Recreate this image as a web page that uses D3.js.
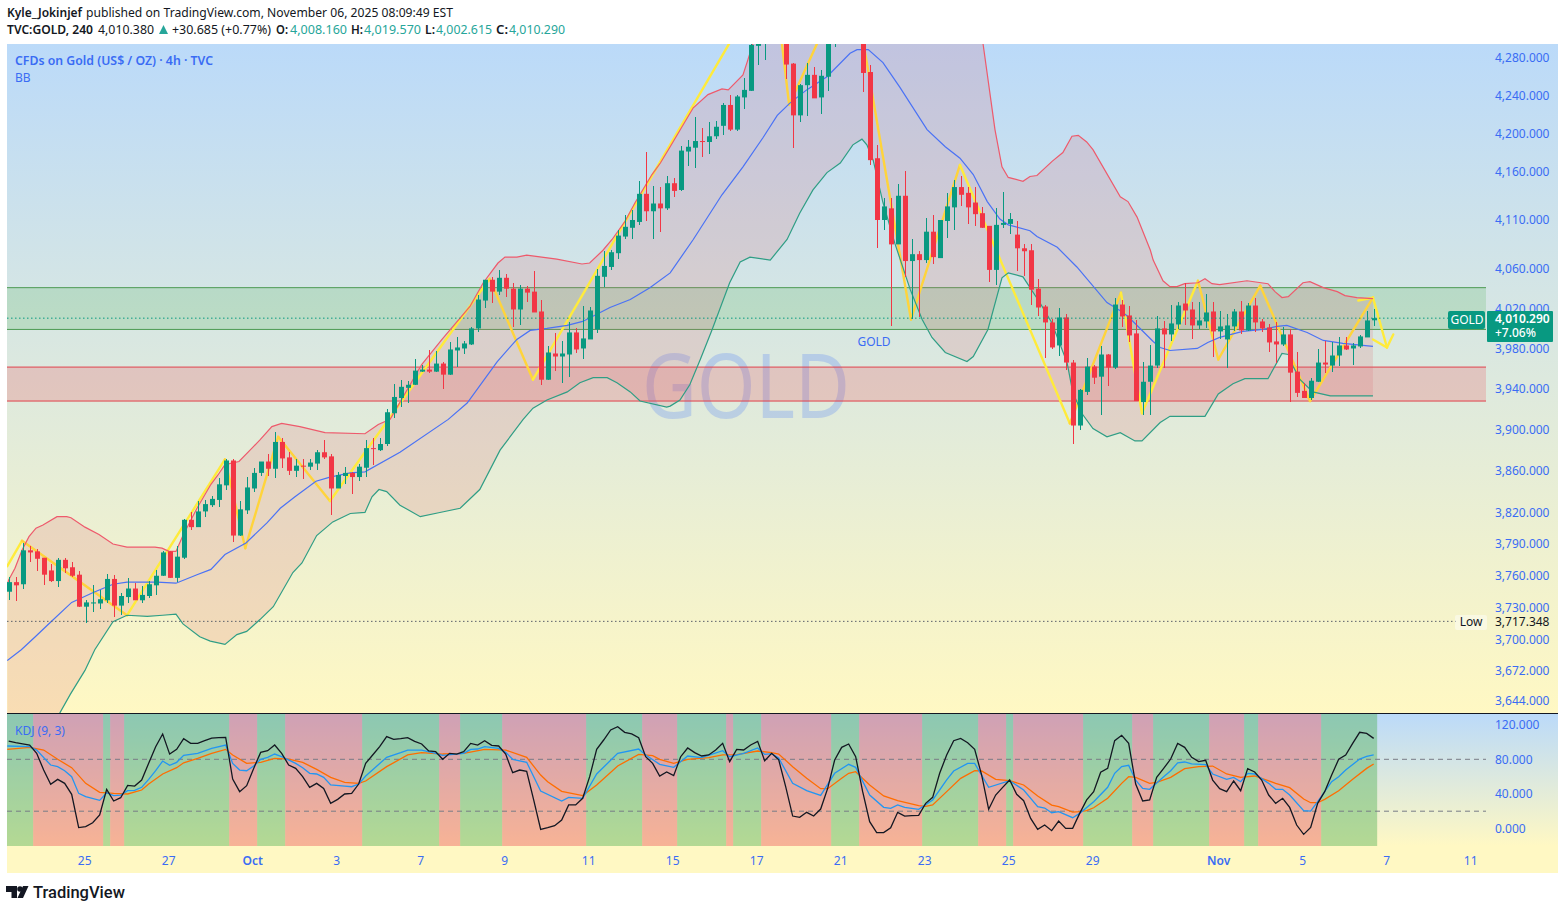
<!doctype html>
<html lang="en">
<head>
<meta charset="UTF-8">
<title>TVC:GOLD, 240</title>
<style>
  html, body { margin: 0; padding: 0; background: #fff; }
  svg { display: block; }
  text { font-family: "Noto Sans", sans-serif; }
  .axis text { fill: #3a6cf4; font-size: 12px; }
  .axis .domain { display: none; }
  .wick { stroke-width: 1px; shape-rendering: crispEdges; }
  .band { fill: none; stroke-width: 1.2px; }
  .kdj { fill: none; stroke-width: 1.3px; }
</style>
</head>
<body>
<svg id="chart" width="1565" height="911"></svg>

<script src="https://d3js.org/d3.v7.min.js"></script>
<script>
  // candles, index = bar number
  const opens = [
    3745,3754,3752,3784,3783,3777,3765,3755,3775,3768,
    3761,3731,3734,3734,3737,3757,3732,3740,3748,3737,
    3741,3751,3760,3783,3758,3777,3813,3806,3821,3827,
    3832,3846,3870,3798,3822,3843,3858,3869,3862,3888,
    3873,3860,3865,3864,3867,3878,3874,3843,3855,3858,
    3854,3863,3882,3880,3886,3916,3931,3941,3944,3957,
    3959,3957,3965,3954,3978,3980,3984,4000,4028,4049,
    4037,4051,4040,4019,4040,4037,4017,3949,3975,3972,
    3974,3996,3980,3989,3999,4052,4062,4076,4093,4102,
    4108,4137,4119,4127,4122,4148,4141,4181,4185,4192,
    4191,4197,4208,4230,4204,4238,4245,4293,4328,4345,
    4360,4320,4274,4219,4251,4262,4238,4260,4305,4330,
    4345,4350,4320,4265,4174,4110,4122,4085,4135,4068,
    4075,4069,4098,4071,4109,4123,4144,4138,4128,4117,
    4104,4059,4105,4106,4095,4081,4079,4040,4022,4006,
    3983,4011,3966,3904,3937,3962,3952,3974,3961,4024,
    4013,3995,3927,3947,3963,4000,3994,4004,4025,4019,
    4003,4007,4017,3997,3989,4002,4017,3998,4023,4007,
    4001,3987,3984,3994,3957,3938,3931,3947,3966,3963,
    3973,3983,3980,3982,3991,4008.16
  ]
  const closes = [
    3754,3751,3784,3782,3776,3761,3755,3775,3767,3760,
    3731,3735,3735,3738,3757,3732,3741,3748,3737,3742,
    3752,3760,3782,3758,3778,3813,3806,3821,3828,3833,
    3847,3870,3798,3823,3844,3858,3869,3862,3888,3872,
    3860,3865,3864,3868,3878,3873,3843,3856,3858,3854,
    3864,3882,3881,3886,3917,3932,3942,3944,3958,3959,
    3957,3965,3954,3979,3981,3985,4000,4029,4049,4037,
    4051,4040,4019,4040,4036,4016,3949,3976,3972,3975,
    3996,3979,3990,4018,4053,4063,4077,4094,4103,4110,
    4137,4119,4127,4122,4148,4140,4182,4186,4192,4191,
    4197,4207,4230,4204,4239,4246,4294,4330,4345,4360,
    4330,4273,4219,4251,4262,4237,4261,4305,4330,4345,
    4350,4330,4264,4172,4110,4124,4085,4135,4068,4075,
    4069,4098,4072,4110,4124,4144,4136,4123,4116,4102,
    4059,4105,4107,4111,4081,4078,4039,4021,4006,3981,
    4011,3966,3904,3939,3962,3951,3974,3961,4024,4012,
    3993,3928,3947,3963,4000,3994,4005,4023,4018,4003,
    4008,4016,3997,4002,4003,4017,3998,4023,4006,4000,
    3986,3984,3994,3956,3936,3931,3948,3966,3964,3973,
    3983,3979,3983,3992,4008,4010.29
  ]
  const highs = [
    3759,3759,3791,3788,3785,3777,3771,3777,3777,3773,
    3764,3737,3751,3747,3762,3761,3744,3758,3753,3750,
    3755,3765,3783,3783,3788,3814,3820,3831,3832,3836,
    3853,3871,3871,3831,3854,3863,3869,3876,3898,3892,
    3878,3871,3871,3871,3880,3890,3876,3859,3864,3859,
    3867,3890,3892,3892,3920,3945,3949,3948,3970,3964,
    3978,3977,3967,3986,3991,3987,4001,4034,4049,4052,
    4059,4055,4046,4044,4043,4058,4029,3982,3995,3987,
    4006,4000,4023,4022,4060,4078,4079,4100,4115,4120,
    4150,4180,4145,4144,4155,4153,4187,4193,4217,4206,
    4212,4213,4232,4241,4241,4259,4300,4345,4360,4378,
    4375,4340,4275,4252,4275,4270,4267,4310,4340,4370,
    4381,4375,4340,4272,4188,4133,4133,4147,4161,4091,
    4078,4112,4115,4110,4138,4151,4155,4144,4144,4123,
    4104,4122,4139,4117,4109,4085,4085,4050,4024,4009,
    4020,4014,3969,3940,3971,3964,3982,3974,4031,4029,
    4023,4008,3967,3983,4012,4007,4024,4027,4046,4027,
    4027,4035,4027,4017,4014,4019,4028,4026,4031,4009,
    4004,4006,4001,3999,3976,3946,3951,3979,3987,3986,
    3991,3991,3985,3993,4017,4019.57
  ]
  const lows = [
    3737,3736,3748,3773,3764,3751,3754,3749,3763,3759,
    3731,3716,3726,3729,3734,3721,3723,3734,3737,3734,
    3739,3742,3760,3758,3754,3776,3803,3806,3816,3825,
    3825,3842,3792,3798,3819,3840,3855,3855,3853,3863,
    3856,3854,3852,3861,3861,3871,3818,3843,3847,3838,
    3850,3854,3866,3879,3884,3911,3922,3926,3944,3957,
    3956,3957,3940,3954,3962,3974,3983,3996,4021,4026,
    4034,4032,4001,4003,4027,4016,3944,3949,3958,3946,
    3952,3975,3970,3989,3995,4042,4059,4070,4091,4091,
    4105,4109,4090,4098,4120,4134,4140,4166,4164,4175,
    4178,4194,4198,4203,4203,4226,4245,4273,4278,4310,
    4320,4258,4185,4212,4218,4237,4220,4245,4292,4310,
    4320,4310,4244,4167,4081,4100,4002,4085,4052,4009,
    4011,4066,4065,4071,4092,4100,4124,4106,4104,4102,
    4047,4044,4102,4096,4058,4053,4024,4012,3971,3979,
    3973,3959,3886,3900,3934,3945,3914,3943,3960,4001,
    3986,3928,3914,3914,3961,3961,3987,3999,4003,3989,
    3999,4000,3972,3989,3961,3997,3994,3997,3996,3996,
    3976,3966,3982,3927,3932,3931,3929,3947,3956,3957,
    3963,3978,3964,3980,3991,4002.6
  ]

  // Bollinger lines as [bar, price]
  const bbUpper = [[-0.2,3751],[0,3756],[0.9,3767],[1.9,3784],[2.9,3797],[3.9,3805],[4.9,3808],[6.9,3816],[8.3,3816],[8.9,3815],[10.9,3806],[12.9,3799],[14.9,3790],[16.9,3787],[20.9,3787],[21.9,3786],[22.9,3783],[23.9,3783],[24.9,3798],[26.9,3824],[28.9,3847],[29.9,3856],[30.9,3866],[32.9,3869],[34.9,3883],[35.9,3890],[37.6,3903],[39,3906],[41.6,3903],[45.2,3897],[50.9,3896],[52.8,3905],[54.5,3910],[59,3964],[61.9,3989],[65.9,4022],[67.8,4046],[69.9,4066],[70.9,4072],[72.6,4072],[74,4074],[78.3,4070],[81.9,4065],[83,4066],[84.9,4079],[86.2,4090],[88,4108],[89.5,4128],[91.9,4157],[93.1,4169],[94.5,4186],[97.8,4227],[99.9,4241],[101.9,4247],[102.8,4246],[104.9,4262],[105.6,4278],[106.3,4295],[108.8,4321],[113,4365],[121.6,4387],[130.2,4409],[135.9,4375],[138.1,4321],[139.2,4295],[140.9,4204],[141.9,4165],[142.8,4154],[144.9,4150],[145.9,4155],[146.9,4156],[149.1,4171],[150.6,4180],[151.9,4197],[152.8,4198],[154,4191],[154.9,4183],[158.8,4134],[159.9,4129],[161.2,4113],[163.1,4079],[163.5,4069],[164.9,4048],[165.9,4042],[166.9,4042],[168,4045],[169.9,4046],[170.9,4050],[171.9,4045],[173,4044],[176.9,4048],[179.9,4045],[180.9,4037],[181.9,4031],[182.8,4032],[184.9,4046],[185.9,4047],[187.8,4041],[189.8,4037],[190.9,4033],[192.6,4031],[194.9,4030]]
  const bbBasis = [[-0.2,3681],[1.8,3691],[3.8,3703],[5.9,3716],[9,3735],[12,3744],[14.9,3752],[16.9,3754],[21.2,3754],[23.9,3753],[26.9,3761],[28.9,3766],[30.9,3780],[33.9,3791],[36.9,3810],[38.8,3824],[40.9,3835],[43.9,3850],[45.9,3854],[48.8,3858],[50.9,3859],[55.9,3878],[62.8,3910],[65.5,3926],[69.8,3967],[72.6,3989],[74.5,3998],[76.9,4000],[79.8,4003],[82,4007],[85.9,4021],[88.8,4029],[91.6,4041],[94.5,4056],[97.8,4090],[101.9,4136],[104.9,4165],[107.8,4196],[109.8,4219],[111.6,4232],[114,4246],[116.9,4260],[120.2,4285],[121.2,4289],[122.8,4289],[124.9,4275],[127.3,4249],[131.2,4204],[133.8,4186],[135.9,4174],[137.8,4157],[139.8,4129],[141.6,4111],[142.8,4105],[145.9,4099],[146.9,4093],[149.8,4082],[152.6,4062],[156.9,4026],[159.2,4016],[160.2,4010],[163.5,3987],[164.5,3981],[165.9,3978],[169.8,3980],[171.3,3986],[173,3991],[176.3,3997],[179.2,3999],[181.2,4002],[182.6,4003],[185.5,3996],[187.8,3988],[190.6,3985],[194.9,3982]]
  const bbLower = [[-0.2,3552],[3,3598],[7.3,3633],[8.8,3650],[10.9,3672],[12.3,3691],[14.9,3717],[16.9,3723],[19.8,3722],[22,3723],[23.9,3724],[24.9,3715],[27.3,3703],[28.8,3699],[30.9,3696],[32.6,3705],[34,3708],[35.9,3719],[37.8,3731],[40.6,3763],[41.9,3772],[44,3798],[46.3,3811],[48.8,3819],[50.9,3820],[51.9,3835],[52.9,3842],[54,3840],[55.9,3827],[58.8,3816],[61.6,3820],[64.5,3824],[67.3,3842],[70.2,3880],[73.5,3910],[74.9,3921],[76.9,3929],[79.8,3937],[81.6,3946],[83.5,3951],[85.5,3951],[86.9,3946],[88.8,3937],[90.2,3928],[94,3922],[94.5,3923],[95.9,3929],[97.3,3944],[98.8,3969],[100.5,3999],[103,4046],[104.5,4067],[105.9,4072],[108.8,4069],[111.2,4090],[113,4117],[114.9,4141],[116.9,4159],[118.8,4169],[120.6,4188],[121.9,4194],[122.6,4188],[123.5,4172],[124.9,4128],[126.6,4086],[128.8,4039],[130.5,4009],[131.9,3991],[133.8,3976],[136.9,3967],[137.8,3972],[139.9,3999],[141.9,4051],[142.8,4056],[144.9,4052],[147.3,4026],[149,4006],[151.2,3966],[152,3937],[153.3,3916],[154.9,3901],[156.9,3893],[158.8,3897],[160.9,3889],[161.9,3889],[164.5,3907],[165.9,3913],[170.9,3913],[172.8,3935],[174.9,3945],[176.6,3950],[179.9,3950],[181.9,3975],[182.8,3974],[183.5,3962],[184.5,3949],[186.3,3937],[188.8,3933],[192.6,3933],[194.9,3933]]

  // hand drawn zigzag and its arrow heads
  const zigzag = [[-0.2,3769],[1.9,3793],[16.9,3723],[30.9,3871],[33.8,3786],[38.5,3893],[45.9,3831],[68.7,4050],[74.9,3949],[109.2,4377],[111.5,4230],[120.3,4376],[128.9,4009],[135.9,4167],[151.6,3906],[158.9,4036],[161.9,3916],[169.9,4048],[172.8,3969],[178.8,4043],[185.9,3928],[194.9,4031],[196.9,3981],[197.8,3994]]
  const zigzagHues = ['y','g','y','g','g','g','y','g','y','g','g','g','g','y','g','y','y','g','g','g','g','y','y']
  const arrowHeadA = [[192.8,4028],[194.9,4031]]
  const arrowHeadB = [[194.9,3989],[196.9,3981]]

  // horizontal levels
  const greenZone = [4041, 3999]
  const redZone = [3961.5, 3928]
  const lastClose = 4010.29
  const lowPrice = 3717.348

  const priceTicks = [4280,4240,4200,4160,4110,4060,4020,3980,3940,3900,3860,3820,3790,3760,3730,3700,3672,3644]
  const kdjTicks = [120,80,40,0]
  const kdjLevels = [80,20]
  const dateTicks = [11,23,35,47,59,71,83,95,107,119,131,143,155,173,185,197,209]
  const dateLabels = ['25','27','Oct','3','7','9','11','15','17','21','23','25','29','Nov','5','7','11']

  // KDJ
  const kdjJ = [
    101,99.2,97.8,96.5,87,67.6,51,56.8,52.2,39.5,
    1,2.1,6.7,15.6,45.3,31.8,35.6,49.9,49.1,56,
    75.3,94.6,109.2,86,91.5,103.8,98.4,98.4,101.5,104.6,
    105,105.4,57.2,42.6,49.5,69.5,88,90,96.5,86.9,
    73.4,69.5,59.9,47.6,52.2,46.4,29.1,33.7,39.9,40.6,
    51.4,75.3,85,94.6,106.2,103,103.8,105,100.8,97.7,
    89.6,88.8,80,86.9,86.1,88.8,98.4,96.5,101.5,96.1,
    95.4,86,64.5,67.6,66.1,33,-1,0.9,3.2,9.8,
    27.2,27.2,34.9,59.9,91.5,102.3,113.9,117.7,111.2,109.3,
    105,83,75.3,60.7,65.3,61.1,83,93.1,87.7,83.8,
    85,90.8,98.5,77.3,91.5,90.8,96.5,100.8,78.4,86.9,
    79.6,48.4,14.4,12.9,18.7,14.4,22.5,46.4,79.2,93.8,
    97.7,83,42.6,7.9,-4.8,-4.8,0.9,18.7,14.4,14.8,
    15.2,29.1,36,63.8,85,101.5,104.2,99.2,91.5,61.8,
    22.2,38.7,47.6,56.1,39.5,32.2,11.7,-1,4,-2.5,
    8.6,0.2,0.2,17.5,33,42.6,65,69.5,101.5,107.7,
    98.4,51.4,31.8,33,59.1,69.5,80.3,98.4,93.8,82.3,
    77.3,78.8,56,46,42.6,54.9,43.7,69.2,65.3,56,
    38.7,29.1,34.9,24.4,4,-6.8,1.3,29.1,42.6,61.8,
    80,85,98.4,111.2,110,104.2
  ]
  const kdjK = [[-0.2,95.4],[3,94.6],[4,90.7],[6,73.4],[7,71.5],[8,66.8],[9,59.9],[10,40.6],[11,36.8],[13,32.5],[14,41.4],[15,38],[16,38.7],[17,43.7],[18,44.1],[19,47.6],[20,56.8],[21,66.8],[22,78],[23,73],[24,76.5],[25,84.6],[27,86.9],[29,92.7],[31,96.5],[32,75.3],[33,67.6],[34,66.8],[35,72.2],[36,80],[37,82.3],[38,86.1],[39,83],[41,75.3],[42,70.3],[43,63.8],[44,63],[45,59.1],[46,50.3],[48,49.1],[49,48.3],[50,51.4],[51,60.7],[54,82.3],[56,87.6],[57,90.7],[59,90.7],[61,86.9],[62,84.6],[65,86.9],[66,91.5],[67,91.9],[68,94.6],[70,92.7],[71,88],[72,80],[74,76.5],[76,43.3],[79,31.8],[80,36],[82,34.9],[84,63],[87,86.9],[90,91.9],[91,85],[93,74.2],[95,70.7],[97,83.8],[99,81.9],[102,90],[103,83],[105,86.9],[107,93.1],[108,85.7],[109,86.5],[110,81.5],[112,52.2],[114,43.7],[116,38.3],[118,63.8],[120,74.2],[121,70.7],[123,38.7],[125,24.5],[126,23.3],[127,27.2],[128,24.5],[130,22.2],[132,33],[134,56.1],[135,66.5],[137,75.3],[138,75.3],[140,47.6],[143,55.3],[145,44.5],[147,25.2],[148,23.7],[149,18.2],[150,19.4],[152,12.5],[153,17.5],[155,31],[157,47.6],[158,63.8],[159,71.5],[160,73],[161,56],[162,46.4],[163,45.3],[165,59.9],[166,66.8],[167,76],[168,76.9],[169,74.6],[171,73.8],[172,63],[174,56.8],[175,59.1],[176,54.1],[177,63.8],[178,63],[180,52.2],[181,45.3],[182,45.3],[183,38.7],[185,20.6],[186,20.2],[187,31],[189,54.1],[190,59.9],[191,67.6],[193,80.3],[194,83.4],[195,85]]
  const kdjD = [[-0.2,91.5],[3,93.8],[5,90.7],[7,80],[9,70.3],[11,52.2],[13,41.8],[15,40.6],[17,39.9],[19,44.5],[20,51.4],[22,63],[24,70.3],[25,76],[27,81],[29,86.9],[31,91.5],[32,85],[34,75.3],[36,76.5],[38,81],[40,80.3],[42,76.5],[44,68.4],[46,59.1],[48,53.4],[50,52.2],[51,54.9],[54,71.5],[57,85],[59,87.6],[62,86.1],[65,86.9],[68,91.5],[71,90.7],[74,82.3],[76,61.8],[77,54],[79,43],[82,38],[84,50.3],[87,72.3],[90,85.7],[92,84.2],[93,80],[95,75.3],[97,80],[100,81.9],[102,85],[104,85.4],[107,89.6],[109,87.7],[110,86.1],[112,71.5],[114,58],[116,46],[117,46],[119,58],[120,63.8],[121,65.7],[123,50.3],[125,37.6],[127,32.2],[130,26.4],[131,25.6],[132,27.2],[134,42.6],[136,58],[138,66.9],[139,66.5],[141,56.8],[143,55.3],[145,50.3],[147,37.6],[149,27.1],[150,25.2],[152,19],[153,19.4],[154,20.6],[155,24],[157,34.9],[159,52.2],[160,59.9],[161,59.1],[163,52.2],[164,53.4],[166,59.1],[168,69.2],[170,71.5],[172,72.2],[174,63],[176,59.1],[178,60.7],[179,58],[181,52.2],[183,47.2],[185,34.1],[186,29.8],[187,29.8],[188,33.7],[190,43.7],[192,56.8],[194,69.5],[195,74.6]]

  // bar boundaries where J crosses D, first span is green
  const crossBars = [-0.24,3.5,13.5,14.5,16.5,31.5,35.5,39.5,50.5,61.5,64.5,70.5,82.5,90.5,95.5,102.5,103.5,107.5,117.5,121.5,130.5,138.5,142.5,143.5,153.5,160.5,163.5,171.5,176.5,178.5,187.5,195.5]

  const UP = '#089981'
  const DOWN = '#f23645'
  const BLUE = '#3a6cf4'

  const x = d3.scaleLinear().domain([0, 195]).range([8.67, 1373.67])
  const y = d3.scaleLog().domain([3644, 4280]).range([701, 58])
  const yKdj = d3.scaleLinear().domain([0, 120]).range([828.5, 724.7])

  const svg = d3.select('#chart')
  const defs = svg.append('defs')

  function vGradient(id, y1, y2) {
    const g = defs.append('linearGradient').attr('id', id)
      .attr('gradientUnits', 'userSpaceOnUse')
      .attr('x1', 0).attr('x2', 0).attr('y1', y1).attr('y2', y2)
    g.append('stop').attr('offset', 0).attr('stop-color', '#bbdaf9')
    g.append('stop').attr('offset', 1).attr('stop-color', '#fff8c3')
  }
  vGradient('mainBg', 44, 713)
  vGradient('kdjBg', 714, 846)

  defs.append('clipPath').attr('id', 'mainClip').append('rect')
    .attr('x', 7).attr('y', 44).attr('width', 1480).attr('height', 669)

  // backgrounds
  svg.append('rect').attr('x', 7).attr('y', 44).attr('width', 1551).attr('height', 669).attr('fill', 'url(#mainBg)')
  svg.append('rect').attr('x', 7).attr('y', 714).attr('width', 1551).attr('height', 132).attr('fill', 'url(#kdjBg)')
  svg.append('rect').attr('x', 7).attr('y', 846).attr('width', 1551).attr('height', 27).attr('fill', '#fff8c3')
  svg.append('line').attr('x1', 7).attr('x2', 1558).attr('y1', 713.5).attr('y2', 713.5).attr('stroke', '#131722')

  const main = svg.append('g').attr('clip-path', 'url(#mainClip)')

  // watermark
  main.append('text').attr('x', 746).attr('y', 418).attr('text-anchor', 'middle')
    .attr('font-size', 90).attr('textLength', 208).attr('lengthAdjust', 'spacingAndGlyphs')
    .attr('fill', '#2962ff').attr('opacity', 0.2).text('GOLD')

  // zones, fill plus top and bottom rules only
  const zones = [{ p: greenZone, fill: '#4caf50', line: '#4c9a52' }, { p: redZone, fill: '#f23645', line: '#e0404c' }]
  main.selectAll('rect.zone').data(zones).enter().append('rect').attr('class', 'zone')
    .attr('x', 7).attr('width', 1479)
    .attr('y', d => y(d.p[0])).attr('height', d => y(d.p[1]) - y(d.p[0]))
    .attr('fill', d => d.fill).attr('fill-opacity', 0.2)
  zones.forEach(z => z.p.forEach(p => {
    main.append('line').attr('x1', 7).attr('x2', 1486).attr('y1', y(p)).attr('y2', y(p))
      .attr('stroke', z.line).attr('stroke-width', 1)
  }))

  const priceLine = d3.line().x(d => x(d[0])).y(d => y(d[1]))

  // band fill, upper forward then lower backward
  main.append('path')
    .attr('d', priceLine(bbUpper.concat(bbLower.slice().reverse())) + 'Z')
    .attr('fill', 'rgb(220,100,110)').attr('fill-opacity', 0.18)

  // zigzag
  const hue = { y: '#ffeb3b', g: '#ffd43b' }
  zigzagHues.forEach((h, i) => {
    main.append('path').attr('d', priceLine([zigzag[i], zigzag[i + 1]]))
      .attr('fill', 'none').attr('stroke', hue[h]).attr('stroke-width', 2.4).attr('stroke-linecap', 'round')
  })
  ;[arrowHeadA, arrowHeadB].forEach(seg => {
    main.append('path').attr('d', priceLine(seg))
      .attr('fill', 'none').attr('stroke', hue.y).attr('stroke-width', 2.4).attr('stroke-linecap', 'round')
  })

  // bollinger lines
  main.append('path').attr('class', 'band').attr('d', priceLine(bbUpper)).attr('stroke', '#ee5a6c')
  main.append('path').attr('class', 'band').attr('d', priceLine(bbLower)).attr('stroke', '#2f9e85')
  main.append('path').attr('class', 'band').attr('d', priceLine(bbBasis)).attr('stroke', '#4a72f5')

  // candles
  const bars = d3.range(opens.length)
  main.selectAll('line.wick').data(bars).enter().append('line').attr('class', 'wick')
    .attr('x1', d => Math.round(x(d)) + 0.5).attr('x2', d => Math.round(x(d)) + 0.5)
    .attr('y1', d => y(highs[d])).attr('y2', d => y(lows[d]))
    .attr('stroke', d => closes[d] >= opens[d] ? UP : DOWN)
  main.selectAll('rect.body').data(bars).enter().append('rect').attr('class', 'body')
    .attr('x', d => Math.round(x(d)) - 2).attr('width', 5)
    .attr('y', d => y(Math.max(opens[d], closes[d])))
    .attr('height', d => Math.max(1, Math.abs(y(opens[d]) - y(closes[d]))))
    .attr('fill', d => closes[d] >= opens[d] ? UP : DOWN)

  // last price and low lines
  main.append('line').attr('x1', 7).attr('x2', 1448).attr('y1', y(lastClose)).attr('y2', y(lastClose))
    .attr('stroke', '#089981').attr('stroke-dasharray', '1.5 2.5')
  main.append('line').attr('x1', 7).attr('x2', 1456).attr('y1', y(lowPrice)).attr('y2', y(lowPrice))
    .attr('stroke', '#5a5f6a').attr('stroke-dasharray', '1.5 2.5')

  main.append('text').attr('x', 874).attr('y', 346).attr('text-anchor', 'middle')
    .attr('font-size', 12).attr('fill', BLUE).text('GOLD')

  // KDJ pane
  const kdj = svg.append('g')
  const spanIdx = d3.range(crossBars.length - 1)
  kdj.selectAll('rect').data(spanIdx).enter().append('rect')
    .attr('x', d => x(crossBars[d])).attr('width', d => x(crossBars[d + 1]) - x(crossBars[d]))
    .attr('y', 714).attr('height', 132)
    .attr('fill', d => d % 2 === 0 ? 'rgb(76,175,80)' : 'rgb(235,80,85)')
    .attr('fill-opacity', d => d % 2 === 0 ? 0.42 : 0.41)

  kdj.selectAll('line.level').data(kdjLevels).enter().append('line').attr('class', 'level')
    .attr('x1', 7).attr('x2', 1486).attr('y1', d => yKdj(d)).attr('y2', d => yKdj(d))
    .attr('stroke', '#787b86').attr('stroke-dasharray', '5 4')

  const kdjLine = d3.line().x(d => x(d[0])).y(d => yKdj(d[1]))
  kdj.append('path').attr('class', 'kdj').attr('d', kdjLine(kdjD)).attr('stroke', '#ff6d00')
  kdj.append('path').attr('class', 'kdj').attr('d', kdjLine(kdjK)).attr('stroke', '#2196f3')
  kdj.append('path').attr('class', 'kdj').attr('d', kdjLine(kdjJ.map((v, i) => [i, v]))).attr('stroke', '#131722')

  kdj.append('text').attr('x', 15).attr('y', 735).attr('font-size', 12).attr('fill', BLUE).text('KDJ (9, 3)')

  // axes
  function cleanAxis(g) { g.selectAll('.tick line').remove(); g.select('.domain').remove() }

  svg.append('g').attr('class', 'axis').attr('transform', 'translate(1487,0)')
    .call(d3.axisRight(y).tickValues(priceTicks).tickFormat(d3.format(',.3f')).tickSize(0).tickPadding(8))
    .call(cleanAxis)
  svg.append('g').attr('class', 'axis').attr('transform', 'translate(1487,0)')
    .call(d3.axisRight(yKdj).tickValues(kdjTicks).tickFormat(d3.format(',.3f')).tickSize(0).tickPadding(8))
    .call(cleanAxis)
  const xAxis = svg.append('g').attr('class', 'axis').attr('transform', 'translate(-1.5,853)')
    .call(d3.axisBottom(x).tickValues(dateTicks).tickFormat((d, i) => dateLabels[i]).tickSize(0).tickPadding(3))
    .call(cleanAxis)
  xAxis.selectAll('text').attr('font-weight', (d, i) => /[A-Z]/.test(dateLabels[i]) ? 600 : 400)

  // price tags
  svg.append('rect').attr('x', 1448).attr('y', 311).attr('width', 37).attr('height', 18).attr('rx', 2).attr('fill', UP)
  svg.append('text').attr('x', 1467).attr('y', 324).attr('text-anchor', 'middle').attr('font-size', 12).attr('fill', '#fff').text('GOLD')
  svg.append('rect').attr('x', 1487).attr('y', 311).attr('width', 66).attr('height', 31).attr('rx', 1).attr('fill', UP)
  svg.append('text').attr('x', 1495).attr('y', 323).attr('font-size', 12).attr('font-weight', 600).attr('fill', '#fff').text(d3.format(',.3f')(lastClose))
  svg.append('text').attr('x', 1495).attr('y', 337).attr('font-size', 12).attr('font-weight', 500).attr('fill', '#fff').text('+7.06%')

  svg.append('rect').attr('x', 1455).attr('y', 615).attr('width', 32).attr('height', 15).attr('rx', 2).attr('fill', '#fff').attr('fill-opacity', 0.45)
  svg.append('text').attr('x', 1471).attr('y', 626).attr('text-anchor', 'middle').attr('font-size', 12).attr('fill', '#131722').text('Low')
  svg.append('text').attr('x', 1495).attr('y', 626).attr('font-size', 12).attr('fill', '#131722').text(d3.format(',.3f')(lowPrice))

  // chart title
  svg.append('text').attr('x', 15).attr('y', 65).attr('font-size', 12).attr('font-weight', 600)
    .attr('textLength', 198).attr('lengthAdjust', 'spacingAndGlyphs').attr('fill', BLUE).text('CFDs on Gold (US$ / OZ) · 4h · TVC')
  svg.append('text').attr('x', 15).attr('y', 82).attr('font-size', 12).attr('fill', BLUE).text('BB')

  // header: text, left, width, weight, colour
  const DARK = '#131722'
  const TEAL = '#26a69a'
  const headerRow1 = [['Kyle_Jokinjef', 7, 75, 600, DARK], ['published on TradingView.com, November 06, 2025 08:09:49 EST', 86, 367, 400, DARK]]
  const headerRow2 = [['TVC:GOLD, 240', 7, 86, 600, DARK], ['4,010.380', 98, 56, 400, DARK], ['+30.685 (+0.77%)', 172, 99, 400, DARK],
    ['O:', 276, 12, 600, DARK], ['4,008.160', 290, 57, 400, TEAL], ['H:', 351, 12, 600, DARK], ['4,019.570', 364, 57, 400, TEAL],
    ['L:', 425, 10, 600, DARK], ['4,002.615', 436, 56, 400, TEAL], ['C:', 496, 12, 600, DARK], ['4,010.290', 509, 56, 400, TEAL]]
  const putRow = (row, base) => row.forEach(r => {
    svg.append('text').attr('x', r[1]).attr('y', base).attr('font-size', 12).attr('font-weight', r[3])
      .attr('textLength', r[2]).attr('lengthAdjust', 'spacingAndGlyphs').attr('fill', r[4]).text(r[0])
  })
  putRow(headerRow1, 17)
  putRow(headerRow2, 34)
  svg.append('path').attr('d', 'M159 34 L163.5 25 L168 34 Z').attr('fill', TEAL)

  // TradingView logo
  svg.append('path').attr('d', 'M6 886H17V898H11.5V892H6Z M28.5 886L23 898H17.5L23 886Z').attr('fill', DARK)
  svg.append('circle').attr('cx', 20).attr('cy', 889).attr('r', 2.8).attr('fill', DARK)
  svg.append('text').attr('x', 33).attr('y', 898).attr('font-size', 16.5).attr('font-weight', 500)
    .style('font-family', 'Roboto, sans-serif').attr('fill', DARK).text('TradingView')
</script>
</body>
</html>
